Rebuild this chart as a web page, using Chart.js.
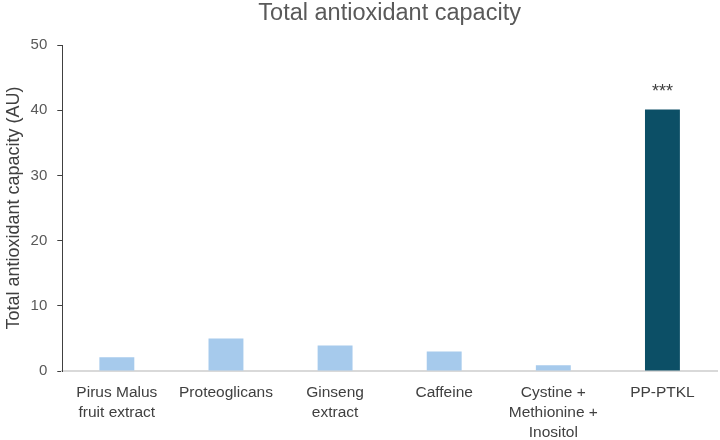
<!DOCTYPE html>
<html>
<head>
<meta charset="utf-8">
<script src="https://cdn.jsdelivr.net/npm/chart.js@4"></script>
<style>
  html, body { margin: 0; padding: 0; background: #fff; }
  #wrap { width: 720px; height: 440px; }
</style>
</head>
<body>
<div id="wrap"><canvas id="chart_canvas"></canvas></div>
<script>
// data
var chartTitle = "Total antioxidant capacity";
var categories = [
    ["Pirus Malus", "fruit extract"],
    ["Proteoglicans"],
    ["Ginseng", "extract"],
    ["Caffeine"],
    ["Cystine +", "Methionine +", "Inositol"],
    ["PP-PTKL"]
];
var capacityValues = [2.1, 5.0, 3.9, 3.0, 0.9, 40.1];
var significance = ["", "", "", "", "", "***"];
var yTicks = [0, 10, 20, 30, 40, 50];

var barColors = ["#a6caec", "#a6caec", "#a6caec", "#a6caec", "#a6caec", "#0c4f66"];
var fontFamily = "'Liberation Sans', Arial, sans-serif";

// title centred over the plot area, plus the *** marks above bars
var decorPlugin = {
    id: 'decor',
    afterDraw: function(chart) {
        var ctx = chart.ctx;
        var area = chart.chartArea;
        ctx.save();
        ctx.fillStyle = "#595959";
        ctx.font = "23.5px " + fontFamily;
        ctx.textAlign = "center";
        ctx.textBaseline = "alphabetic";
        ctx.fillText(chartTitle, (area.left + area.right) / 2, 20);

        var meta = chart.getDatasetMeta(0);
        ctx.fillStyle = "#404040";
        ctx.font = "18px " + fontFamily;
        meta.data.forEach(function(bar, i) {
            if (significance[i]) {
                ctx.fillText(significance[i], bar.x, bar.y - 13);
            }
        });
        ctx.restore();
    }
};

var context = document.getElementById("chart_canvas");
var chart = new Chart(context, {
    type: 'bar',
    data: {
        labels: categories,
        datasets: [{
            label: chartTitle,
            data: capacityValues,
            backgroundColor: barColors,
            borderWidth: 0,
            categoryPercentage: 1.0,
            barPercentage: 0.32
        }]
    },
    options: {
        responsive: true,
        maintainAspectRatio: false,
        animation: false,
        layout: { padding: { left: 3, right: 3, top: 45, bottom: -3 } },
        plugins: {
            legend: { display: false },
            tooltip: { enabled: false },
            title: { display: false }
        },
        scales: {
            x: {
                grid: { display: true, drawOnChartArea: false, drawTicks: false },
                border: { display: true, color: "#d9d9d9", width: 2 },
                // chart.js reserves the tick padding twice, drop the extra
                afterFit: function(axis) { axis.height -= 12; },
                ticks: {
                    color: "#404040",
                    padding: 12,
                    maxRotation: 0,
                    autoSkip: false,
                    font: { family: fontFamily, size: 15.5, lineHeight: 1.29 }
                }
            },
            y: {
                min: 0,
                max: 50,
                afterBuildTicks: function(axis) {
                    axis.ticks = yTicks.map(function(v) { return { value: v }; });
                },
                afterFit: function(axis) { axis.width -= 10; },
                grid: { display: true, drawOnChartArea: false, drawTicks: true, tickLength: 5, color: "#404040" },
                border: { display: true, color: "#404040", width: 1 },
                ticks: {
                    color: "#595959",
                    padding: 10,
                    font: { family: fontFamily, size: 15 }
                },
                title: {
                    display: true,
                    text: "Total antioxidant capacity (AU)",
                    color: "#404040",
                    font: { family: fontFamily, size: 18 },
                    padding: { top: 0, bottom: 6 }
                }
            }
        }
    },
    plugins: [decorPlugin]
});
</script>
</body>
</html>
